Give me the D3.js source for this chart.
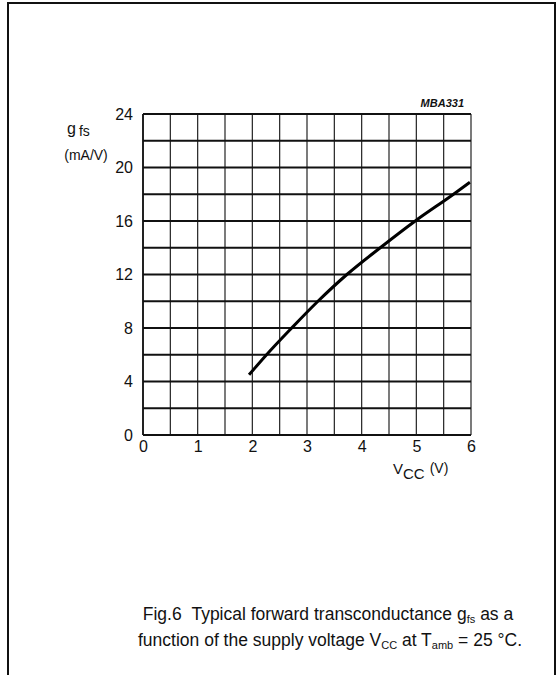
<!DOCTYPE html>
<html><head><meta charset="utf-8">
<script src="https://cdn.jsdelivr.net/npm/d3@7"></script>
<style>body{margin:0;background:#fff}svg{display:block}text{font-family:"Liberation Sans",Arial,sans-serif;fill:#111}</style>
</head><body>
<script>
const vcc = [1.94, 2.26, 2.72, 3.2, 3.73, 4.34, 4.98, 5.68, 5.98];
const gfs = [4.5, 6.0, 8.0, 10.0, 12.0, 14.0, 16.0, 18.0, 18.9];
const xTicks = [0, 1, 2, 3, 4, 5, 6];
const yTicks = [0, 4, 8, 12, 16, 20, 24];
const xGrid = d3.range(0, 6.01, 0.5);
const yGrid = d3.range(0, 24.01, 2);

const W = 559, H = 675;
const svg = d3.select("body").append("svg").attr("width", W).attr("height", H);
const x = d3.scaleLinear().domain([0, 6]).range([143, 471]);
const y = d3.scaleLinear().domain([0, 24]).range([435, 114]);

// outer frame (open at bottom)
svg.append("path").attr("d", `M8,${H} L8,3 L555,3 L555,${H}`)
  .attr("fill", "none").attr("stroke", "#111").attr("stroke-width", 2);

// grid
svg.append("g").selectAll("line").data(xGrid).join("line")
  .attr("x1", d => x(d)).attr("x2", d => x(d)).attr("y1", y(0)).attr("y2", y(24))
  .attr("stroke", "#222").attr("stroke-width", d => (d === 0 ? 2 : 1.2));
svg.append("g").selectAll("line").data(yGrid).join("line")
  .attr("x1", x(0)).attr("x2", x(6)).attr("y1", d => y(d)).attr("y2", d => y(d))
  .attr("stroke", "#111").attr("stroke-width", 2);

const FF = "Liberation Sans, Arial, sans-serif";
const ya = svg.append("g").attr("transform", `translate(${x(0)},0)`)
  .call(d3.axisLeft(y).tickValues(yTicks).tickFormat(d3.format("d")).tickSize(0).tickPadding(10));
ya.select(".domain").remove();
ya.selectAll("text").attr("font-size", 16).attr("font-family", FF).attr("fill", "#111");
const xa = svg.append("g").attr("transform", `translate(0,${y(0)})`)
  .call(d3.axisBottom(x).tickValues(xTicks).tickFormat(d3.format("d")).tickSize(0).tickPadding(6));
xa.select(".domain").remove();
xa.selectAll("text").attr("font-size", 16).attr("font-family", FF).attr("fill", "#111");

// curve
svg.append("path").datum(d3.zip(vcc, gfs))
  .attr("d", d3.line().x(d => x(d[0])).y(d => y(d[1])).curve(d3.curveMonotoneX))
  .attr("fill", "none").attr("stroke", "#000").attr("stroke-width", 3);

// y title
const yt = svg.append("text").attr("x", 67).attr("y", 134).attr("font-size", 16);
yt.append("tspan").text("g");
yt.append("tspan").attr("dx", 3).attr("dy", 2).attr("font-size", 14).text("fs");
svg.append("text").attr("x", 86).attr("y", 160).attr("text-anchor", "middle").attr("font-size", 14).text("(mA/V)");

// x title
const xt = svg.append("text").attr("x", 393).attr("y", 474).attr("font-size", 15);
xt.append("tspan").text("V");
xt.append("tspan").attr("dy", 5).attr("font-size", 15).text("CC");
xt.append("tspan").attr("dx", 5).attr("dy", -6).attr("font-size", 14).text("(V)");

// code
svg.append("text").attr("x", 464).attr("y", 107).attr("text-anchor", "end")
  .attr("font-size", 11).attr("font-style", "italic").attr("font-weight", "bold").text("MBA331");

// caption
const c1 = svg.append("text").attr("x", 328).attr("y", 620).attr("text-anchor", "middle").attr("font-size", 17.5);
c1.append("tspan").text("Fig.6\u00a0\u00a0Typical forward transconductance g");
c1.append("tspan").attr("dy", 3).attr("font-size", 11).text("fs");
c1.append("tspan").attr("dy", -3).text(" as a");
const c2 = svg.append("text").attr("x", 330).attr("y", 646).attr("text-anchor", "middle").attr("font-size", 17.5);
c2.append("tspan").text("function of the supply voltage V");
c2.append("tspan").attr("dy", 3).attr("font-size", 11).text("CC");
c2.append("tspan").attr("dy", -3).text(" at T");
c2.append("tspan").attr("dy", 3).attr("font-size", 11).text("amb");
c2.append("tspan").attr("dy", -3).text(" = 25 °C.");
</script>
</body></html>
